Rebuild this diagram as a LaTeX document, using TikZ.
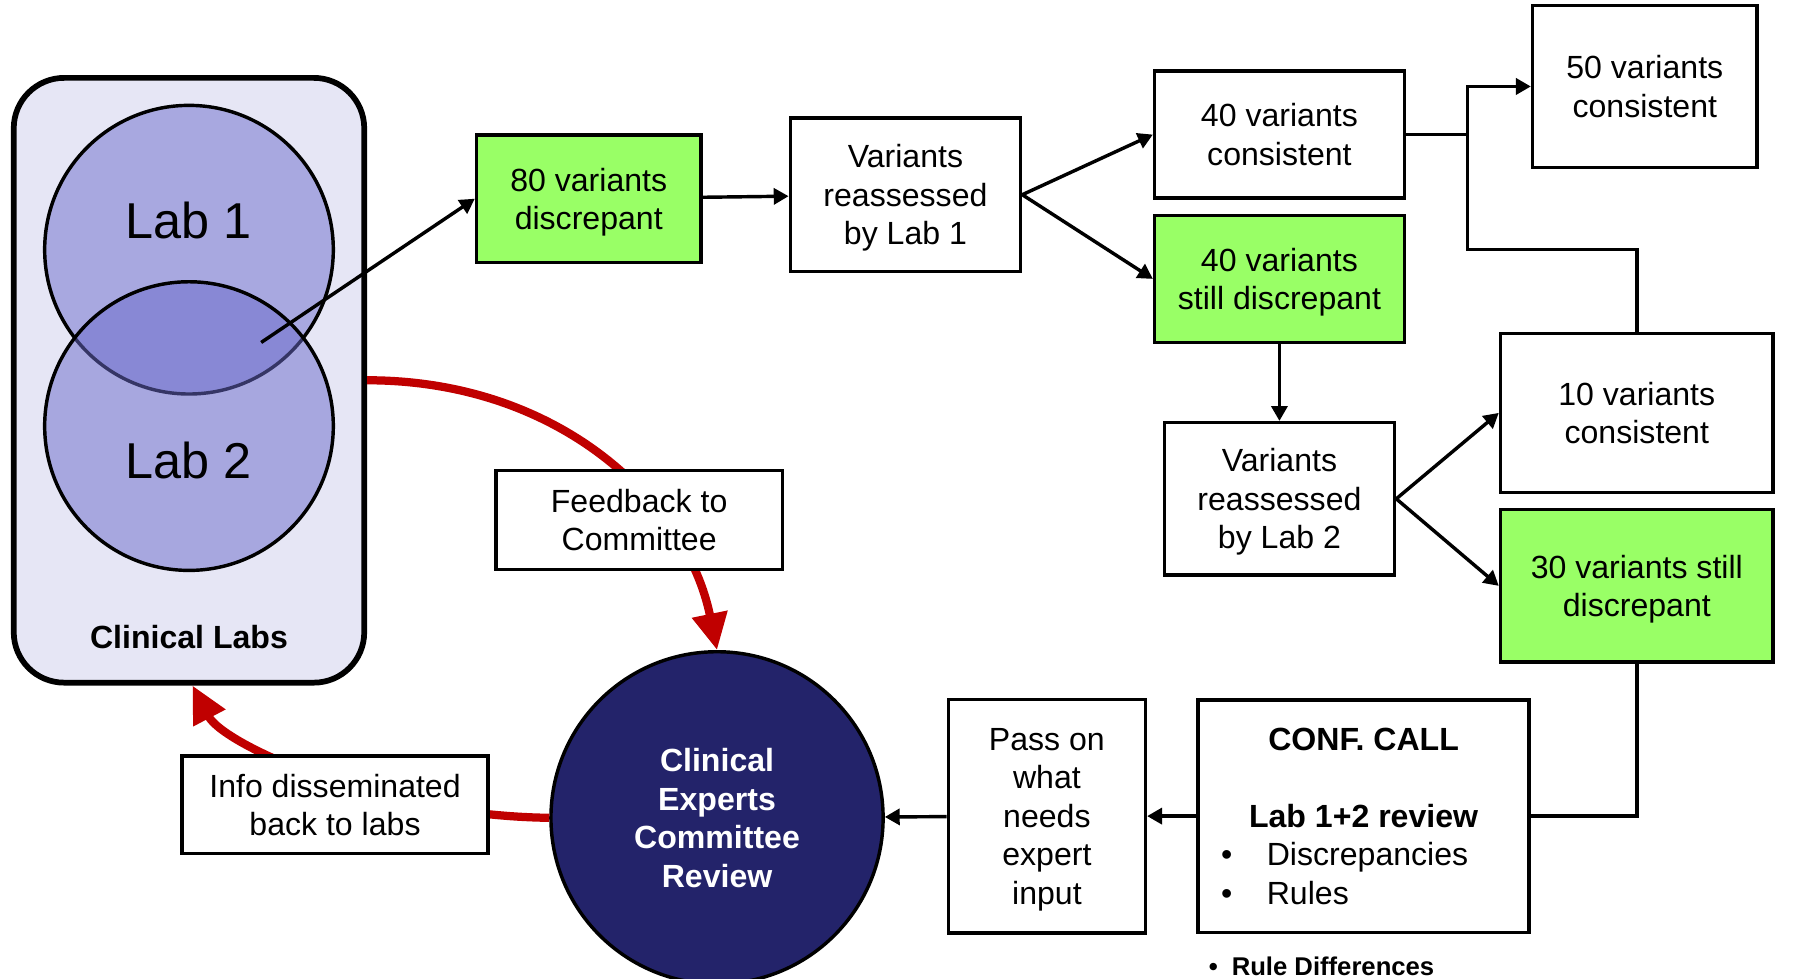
\documentclass[tikz,border=0pt]{standalone}
\usepackage{fontspec}
\setmainfont{Liberation Sans}
\usepackage{tikz}
\usetikzlibrary{positioning,arrows.meta,shapes}

\definecolor{labfill}{RGB}{230,230,245}
\definecolor{labone}{RGB}{168,168,224}
\definecolor{labtwo}{RGB}{106,106,203}
\definecolor{discgreen}{RGB}{153,255,102}
\definecolor{navy}{RGB}{35,35,106}
\definecolor{fbred}{RGB}{192,0,0}

\begin{document}
\begin{tikzpicture}[
            x=0.5pt, y=-0.5pt,
            font=\fontsize{14pt}{16.8pt}\selectfont,
            block/.style={rectangle, draw, line width=1.5pt, fill=white, align=center, inner sep=2pt, text depth=0pt},
            discblock/.style={block, fill=discgreen},
            labsbox/.style={rectangle, draw, line width=2.5pt, rounded corners=22pt, fill=labfill, minimum width=153pt, minimum height=264pt},
            labcircle/.style={circle, draw, line width=1.5pt, minimum size=126pt},
            reviewcircle/.style={circle, draw, line width=1.5pt, fill=navy, minimum size=145pt, text=white, align=center, font=\bfseries\fontsize{14pt}{16.8pt}\selectfont},
            link/.style={line width=1.5pt},
            arrow/.style={link, -{Triangle[length=6.5pt,width=7pt]}},
            redarrow/.style={draw=fbred, line width=3.6pt, -{Triangle[length=16pt,width=15pt]}}
        ]
        \useasboundingbox (0,0) rectangle (1568,854);
        \clip (0,0) rectangle (1568,854);

        \node[labsbox] (labs) at (165,332) {};
        \node[labcircle, fill=labone] (lab1) at (165,218) {};
        \node[labcircle, fill=labtwo, fill opacity=0.5] (lab2) at (165,372) {};
        \node[anchor=base, font=\fontsize{22pt}{26pt}\selectfont] (lab1txt) at (165,208) {Lab 1};
        \node[anchor=base, font=\fontsize{22pt}{26pt}\selectfont] (lab2txt) at (165,418) {Lab 2};
        \node[anchor=base, font=\bfseries\fontsize{14pt}{16.8pt}\selectfont] (labstitle) at (165,566) {Clinical Labs};
        \coordinate (overlap) at (228,299);

        \node[discblock, minimum width=98pt, minimum height=55.5pt] (disc80) at (514,173.5) {80 variants\\discrepant};
        \node[block, minimum width=100.5pt, minimum height=67pt] (reass1) at (790.5,170) {Variants\\reassessed\\by Lab 1};
        \node[block, minimum width=109pt, minimum height=55.5pt] (cons40) at (1117,117.5) {40 variants\\consistent};
        \node[discblock, minimum width=109pt, minimum height=55.5pt, below=6pt of cons40] (disc40) {40 variants\\still discrepant};
        \node[block, minimum width=98pt, minimum height=70.5pt] (cons50) at (1436,75.5) {50 variants\\consistent};
        \node[block, minimum width=100.5pt, minimum height=66.5pt, below=33.5pt of disc40] (reass2) {Variants\\reassessed\\by Lab 2};
        \node[block, minimum width=119pt, minimum height=69.5pt] (cons10) at (1429,360.5) {10 variants\\consistent};
        \node[discblock, minimum width=119pt, minimum height=66.5pt, below=6pt of cons10] (disc30) {30 variants still\\discrepant};
        \node[block, minimum width=144.5pt, minimum height=101.5pt] (conf) at (1190.5,712.5) {\textbf{CONF. CALL}\\[16.8pt]
            \textbf{Lab 1+2 review}\\
            \makebox[124.5pt][l]{\makebox[20pt][l]{•}Discrepancies}\\
            \makebox[124.5pt][l]{\makebox[20pt][l]{•}Rules}};
        \node[block, minimum width=86pt, minimum height=102pt, left=21.5pt of conf] (pass) {Pass on\\what\\needs\\expert\\input};
        \node[reviewcircle] (review) at (626,714) {Clinical\\Experts\\Committee\\Review};
        \node[anchor=base west, inner sep=0pt, font=\bfseries\fontsize{11.2pt}{13.5pt}\selectfont] (rulediff) at (1055,852) {\makebox[10pt][l]{•}Rule Differences};

        \draw[redarrow] (labs.east) .. controls (490,332) and (600,440) .. (review.north);
        \draw[redarrow] (review.west) .. controls (330,712) and (195,650) .. ([xshift=1.5pt]labs.south);
        \node[block, minimum width=125pt, minimum height=43pt] (feedback) at (558,454) {Feedback to\\Committee};
        \node[block, minimum width=133.5pt, minimum height=42.5pt] (info) at (292.5,702.5) {Info disseminated\\back to labs};

        \coordinate (join) at (1281,218);
        \draw[arrow] (overlap) -- (disc80.west);
        \draw[arrow] (disc80) -- (reass1);
        \draw[arrow] (reass1.east) -- (cons40.west);
        \draw[arrow] (reass1.east) -- (disc40.west);
        \draw[link] (cons40.east) -- (cons40.east -| join);
        \draw[arrow] (cons10.north) |- (join) |- (cons50.west);
        \draw[arrow] (disc40) -- (reass2);
        \draw[arrow] (reass2.east) -- (cons10.west);
        \draw[arrow] (reass2.east) -- (disc30.west);
        \draw[link] (disc30.south) |- (conf.east);
        \draw[arrow] (conf) -- (pass);
        \draw[arrow] (pass) -- (review);
        \end{tikzpicture}
\end{document}
